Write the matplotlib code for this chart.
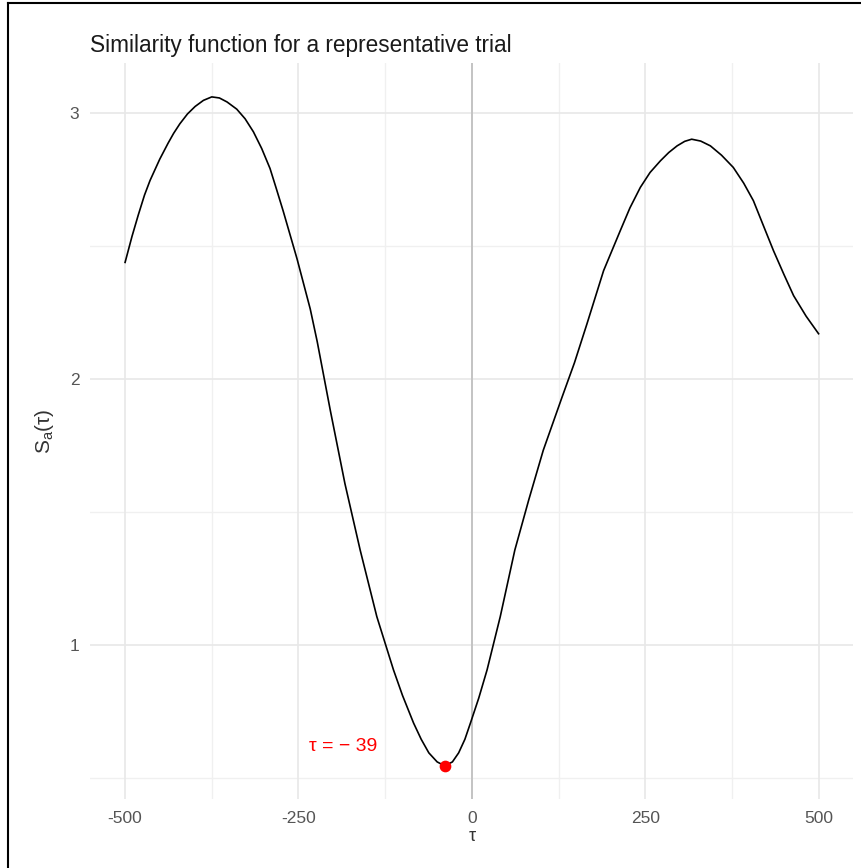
import matplotlib.pyplot as plt
from matplotlib.lines import Line2D

# values
tau = [-500, -490, -481, -472, -464, -450, -438, -430, -421, -410, -399, -387,
       -375, -364, -353, -339, -327, -315, -303, -291, -282, -272, -262, -252,
       -233, -223, -204, -183, -161, -137, -113, -100, -84, -73, -62, -50,
       -39, -28, -19, -10, -2, 10, 22, 41, 62, 82, 103, 130, 148, 166, 190,
       214, 228, 243, 257, 272, 284, 296, 307, 317, 330, 344, 360, 377, 392,
       406, 420, 435, 450, 464, 482, 500]
sim = [2.437, 2.535, 2.615, 2.690, 2.745, 2.825, 2.885, 2.922, 2.958, 2.995,
       3.023, 3.046, 3.059, 3.055, 3.040, 3.013, 2.977, 2.928, 2.865, 2.790,
       2.715, 2.630, 2.540, 2.450, 2.262, 2.140, 1.880, 1.606, 1.356, 1.106,
       0.906, 0.810, 0.706, 0.645, 0.594, 0.560, 0.545, 0.560, 0.594, 0.645,
       0.706, 0.800, 0.906, 1.106, 1.356, 1.544, 1.731, 1.930, 2.060, 2.206,
       2.406, 2.556, 2.642, 2.719, 2.775, 2.819, 2.850, 2.875, 2.892, 2.900,
       2.893, 2.875, 2.840, 2.794, 2.735, 2.669, 2.578, 2.481, 2.392, 2.312,
       2.235, 2.169]
tau_min = -39
sim_min = 0.545

x_ticks = [-500, -250, 0, 250, 500]
y_ticks = [1, 2, 3]

plt.rcParams['font.family'] = ['Liberation Sans', 'DejaVu Sans']

fig = plt.figure(figsize=(8.61, 8.68), dpi=100)
ax = fig.add_axes([0.105, 0.079, 0.886, 0.848])

# ggplot-like grid
for v in [-375, -125, 125, 375]:
    ax.axvline(v, color='#f0f0f0', lw=1.0, zorder=0)
for v in [0.5, 1.5, 2.5]:
    ax.axhline(v, color='#f0f0f0', lw=1.0, zorder=0)
for v in x_ticks:
    ax.axvline(v, color='#e8e8e8', lw=1.2, zorder=0)
for v in y_ticks:
    ax.axhline(v, color='#e8e8e8', lw=1.2, zorder=0)
ax.axvline(0, color='#bdbdbd', lw=1.2, zorder=1)

ax.plot(tau, sim, color='black', lw=1.2, zorder=3)
ax.scatter([tau_min], [sim_min], s=55, color='red', zorder=4)
ax.text(-185, 0.617, 'τ = − 39', color='red', fontsize=14,
        ha='center', va='center')

ax.set_xlim(-550, 550)
ax.set_ylim(0.419, 3.185)
ax.set_xticks(x_ticks)
ax.set_xticklabels(['-500', '-250', '0', '250', '500'])
ax.set_yticks(y_ticks)
ax.tick_params(length=0, labelsize=12.5, labelcolor='#555555', pad=8)
for s in ax.spines.values():
    s.set_visible(False)

ax.set_xlabel('τ', fontsize=13, color='#333333', labelpad=2)
ax.set_ylabel(r'$\mathregular{S_a(\tau)}$', fontsize=15, color='#333333', labelpad=10)
fig.text(0.1045, 0.948, 'Similarity function for a representative trial',
         fontsize=16.3, color='#1a1a1a', ha='left', va='center')

# frame edges visible at the top and left of the picture
fig.add_artist(Line2D([8 / 861, 8 / 861], [0, 1 - 3 / 868], color='black', lw=1.5))
fig.add_artist(Line2D([8 / 861, 1], [1 - 3 / 868, 1 - 3 / 868], color='black', lw=1.5))

fig.savefig('out.png', dpi=100)
